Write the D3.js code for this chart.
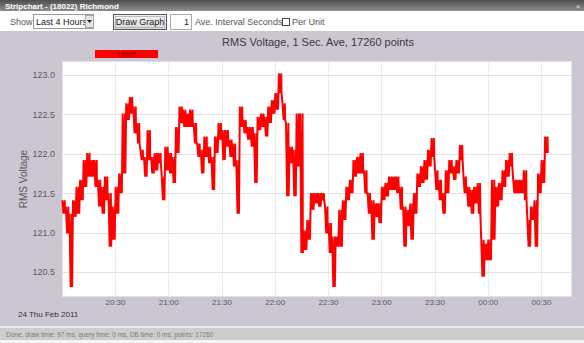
<!DOCTYPE html>
<html>
<head>
<meta charset="utf-8">
<script src="https://cdn.jsdelivr.net/npm/d3@7"></script>
<style>
  html, body { margin: 0; padding: 0; background: #ffffff; }
  svg { display: block; font-family: "Liberation Sans", Arial, sans-serif; }
</style>
</head>
<body>
<svg id="chart" width="584" height="343"></svg>
<script>
// ---- data -------------------------------------------------------------
const windowTitle = "Stripchart - (18022) Richmond";
const chartTitle = "RMS Voltage, 1 Sec. Ave, 17260 points";
const seriesName = "18022";
const dateLabel = "24 Thu Feb 2011";
const statusText = "Done, draw time: 97 ms, query time: 0 ms, DB time: 0 ms, points: 17260";

// visible time window
const timeStart = new Date(2011, 1, 24, 20, 0, 42);
const timeEnd = new Date(2011, 1, 25, 0, 46, 54);
// samples are summarised in 2-minute buckets starting at 20:01
const bucketOrigin = new Date(2011, 1, 24, 20, 1, 0);
const bucketMinutes = 2;

// per-bucket maximum and minimum RMS voltage
const bucketHigh = [
  121.41,121.33,121.24,121.41,121.58,121.67,121.92,122.01,121.92,121.92,
  121.67,121.58,121.71,121.50,121.33,121.58,121.75,122.51,122.64,122.72,
  122.60,122.39,122.05,121.96,122.30,121.96,122.01,122.01,121.71,122.09,
  122.01,121.96,122.34,122.60,122.56,122.51,122.56,122.39,122.13,122.05,
  122.22,122.09,121.96,122.22,122.39,122.30,122.30,122.18,122.13,121.92,
  122.60,122.43,122.34,122.34,122.26,122.47,122.51,122.47,122.60,122.68,
  122.77,123.02,122.64,122.39,122.09,122.05,122.51,122.51,121.03,121.16,
  121.50,121.50,121.50,121.50,121.33,121.12,120.95,120.95,121.29,121.41,
  121.58,121.67,121.92,121.96,122.01,121.79,121.50,121.41,121.37,121.37,
  121.58,121.63,121.71,121.71,121.71,121.58,121.33,121.29,121.37,121.50,
  121.75,121.84,121.92,122.05,122.20,121.79,121.67,121.50,121.79,121.92,
  121.84,121.92,122.11,121.71,121.58,121.54,121.58,121.63,120.91,120.86,
  120.91,121.67,121.58,121.63,121.79,121.92,122.01,121.67,121.67,121.67,
  121.79,121.16,121.33,121.41,121.75,121.92,122.22
];
const bucketLow = [
  121.24,120.99,120.31,121.20,121.24,121.41,121.58,121.71,121.71,121.58,
  121.33,121.24,121.41,120.82,120.91,121.24,121.50,121.75,122.43,122.51,
  122.26,122.13,121.92,121.71,121.92,121.75,121.79,121.88,121.41,121.79,
  121.75,121.63,122.01,122.39,122.34,122.34,122.34,122.13,121.96,121.75,
  121.96,121.88,121.54,122.01,122.18,121.92,122.09,121.96,121.84,121.24,
  122.34,122.26,122.18,122.09,121.63,122.30,122.34,122.22,122.39,122.51,
  122.56,122.77,122.43,121.46,121.88,121.46,121.84,120.74,120.78,120.91,
  121.29,121.37,121.33,121.41,120.99,120.74,120.31,120.82,120.82,121.16,
  121.41,121.50,121.71,121.75,121.75,121.50,121.24,120.91,121.20,121.12,
  121.41,121.46,121.54,121.54,121.50,121.29,120.82,121.08,120.91,121.24,
  121.58,121.63,121.67,121.84,121.96,121.54,121.41,121.24,121.50,121.75,
  121.67,121.75,121.92,121.50,121.33,121.24,121.37,121.24,120.44,120.65,
  120.65,120.91,121.33,121.41,121.58,121.71,121.84,121.50,121.50,121.50,
  121.41,120.82,121.16,120.82,121.50,121.63,122.01
];

const yTicks = [120.5, 121.0, 121.5, 122.0, 122.5, 123.0];
const yDomain = [120.195, 123.165];

// ---- layout -----------------------------------------------------------
const W = 584, H = 343;
const plot = { left: 63, right: 571, top: 62, bottom: 296 };

const svg = d3.select("#chart");
const defs = svg.append("defs");

const tg = defs.append("linearGradient").attr("id", "titleGrad")
  .attr("x1", 0).attr("y1", 0).attr("x2", 0).attr("y2", 1);
tg.append("stop").attr("offset", "0%").attr("stop-color", "#4e4e4e");
tg.append("stop").attr("offset", "100%").attr("stop-color", "#8e8e8e");

const bg = defs.append("linearGradient").attr("id", "btnGrad")
  .attr("x1", 0).attr("y1", 0).attr("x2", 0).attr("y2", 1);
bg.append("stop").attr("offset", "0%").attr("stop-color", "#f6f6f6");
bg.append("stop").attr("offset", "100%").attr("stop-color", "#d6d6d6");

// window background
svg.append("rect").attr("width", W).attr("height", H).attr("fill", "#ccc6d2");

// title bar
svg.append("rect").attr("x", 0).attr("y", 0).attr("width", W).attr("height", 11)
  .attr("fill", "url(#titleGrad)");
svg.append("text").attr("x", 5).attr("y", 8.5).attr("fill", "#ffffff")
  .attr("font-size", 8).attr("font-weight", "bold").text(windowTitle);
svg.append("text").attr("x", 578).attr("y", 8.5).attr("fill", "#e0e0e0")
  .attr("font-size", 8).attr("text-anchor", "middle").text("×");

// toolbar
svg.append("rect").attr("x", 0).attr("y", 11).attr("width", W).attr("height", 20)
  .attr("fill", "#ffffff");
svg.append("text").attr("x", 10).attr("y", 25).attr("font-size", 9).attr("fill", "#555").text("Show");
svg.append("rect").attr("x", 33.5).attr("y", 14.5).attr("width", 60).attr("height", 14)
  .attr("fill", "#fff").attr("stroke", "#9a9a9a");
svg.append("text").attr("x", 36).attr("y", 25).attr("font-size", 9).attr("fill", "#222").text("Last 4 Hours");
svg.append("rect").attr("x", 85.5).attr("y", 15.5).attr("width", 8).attr("height", 12)
  .attr("fill", "#e4e4e4").attr("stroke", "#aaa");
svg.append("path").attr("d", "M87,20 L92,20 L89.5,23 Z").attr("fill", "#222");

svg.append("rect").attr("x", 113.5).attr("y", 14.5).attr("width", 53).attr("height", 15)
  .attr("fill", "url(#btnGrad)").attr("stroke", "#555");
svg.append("rect").attr("x", 115.5).attr("y", 16.5).attr("width", 49).attr("height", 11)
  .attr("fill", "none").attr("stroke", "#9c9c9c").attr("stroke-width", 0.6);
svg.append("text").attr("x", 140).attr("y", 25).attr("font-size", 9).attr("fill", "#222")
  .attr("text-anchor", "middle").text("Draw Graph");

svg.append("rect").attr("x", 170.5).attr("y", 14.5).attr("width", 21).attr("height", 15)
  .attr("fill", "#fff").attr("stroke", "#aaa");
svg.append("text").attr("x", 189).attr("y", 25).attr("font-size", 9).attr("fill", "#222")
  .attr("text-anchor", "end").text("1");
svg.append("text").attr("x", 195).attr("y", 25).attr("font-size", 9).attr("fill", "#555")
  .text("Ave. Interval Seconds");
svg.append("rect").attr("x", 282.5).attr("y", 18.5).attr("width", 7).attr("height", 7)
  .attr("fill", "#fff").attr("stroke", "#444");
svg.append("text").attr("x", 292).attr("y", 25).attr("font-size", 9).attr("fill", "#555").text("Per Unit");

// chart title and legend
svg.append("text").attr("x", 318).attr("y", 46).attr("font-size", 11).attr("fill", "#3a3a3a")
  .attr("text-anchor", "middle").text(chartTitle);
svg.append("rect").attr("x", 95).attr("y", 50).attr("width", 63).attr("height", 8).attr("fill", "#ff0000");
svg.append("text").attr("x", 126.5).attr("y", 57).attr("font-size", 7).attr("fill", "#8a0000")
  .attr("text-anchor", "middle").text(seriesName);

// plot area
svg.append("rect").attr("x", plot.left - 1).attr("y", plot.top - 1)
  .attr("width", plot.right - plot.left + 2).attr("height", plot.bottom - plot.top + 2)
  .attr("fill", "#e4e0e8");
svg.append("rect").attr("x", plot.left).attr("y", plot.top)
  .attr("width", plot.right - plot.left).attr("height", plot.bottom - plot.top)
  .attr("fill", "#ffffff");

const x = d3.scaleTime().domain([timeStart, timeEnd]).range([plot.left, plot.right]);
const y = d3.scaleLinear().domain(yDomain).range([plot.bottom, plot.top]);

// grid
const xTickVals = x.ticks(d3.timeMinute.every(30));
svg.append("g").selectAll("line").data(xTickVals).join("line")
  .attr("x1", d => Math.round(x(d)) + 0.5).attr("x2", d => Math.round(x(d)) + 0.5)
  .attr("y1", plot.top).attr("y2", plot.bottom)
  .attr("stroke", "#ececec").attr("stroke-width", 1);
svg.append("g").selectAll("line").data(yTicks).join("line")
  .attr("x1", plot.left).attr("x2", plot.right)
  .attr("y1", d => Math.round(y(d)) + 0.5).attr("y2", d => Math.round(y(d)) + 0.5)
  .attr("stroke", "#e2e2e2").attr("stroke-width", 1);

// axes (labels only, no domain lines)
const yAxis = d3.axisLeft(y).tickValues(yTicks).tickFormat(d3.format(".1f")).tickSize(0).tickPadding(0);
const gy = svg.append("g").attr("transform", `translate(${plot.left - 8},0)`).call(yAxis);
gy.select(".domain").remove();
gy.selectAll("text").attr("font-size", 9).attr("fill", "#5a5a5a").attr("font-family", "Liberation Sans, Arial, sans-serif");

const xAxis = d3.axisBottom(x).tickValues(xTickVals).tickFormat(d3.timeFormat("%H:%M")).tickSize(0).tickPadding(0);
const gx = svg.append("g").attr("transform", `translate(0,${plot.bottom + 3})`).call(xAxis);
gx.select(".domain").remove();
gx.selectAll("text").attr("font-size", 8).attr("fill", "#5a5a5a").attr("font-family", "Liberation Sans, Arial, sans-serif");

svg.append("text").attr("transform", `translate(27,${(plot.top + plot.bottom) / 2}) rotate(-90)`)
  .attr("text-anchor", "middle").attr("font-size", 10).attr("fill", "#5a5a5a").text("RMS Voltage");

svg.append("text").attr("x", 18).attr("y", 317).attr("font-size", 8).attr("fill", "#333").text(dateLabel);

// voltage trace: each bucket drawn from its high to its low
const pts = [];
bucketHigh.forEach((hi, i) => {
  const t = d3.timeMinute.offset(bucketOrigin, i * bucketMinutes);
  pts.push([d3.timeSecond.offset(t, -40), hi]);
  pts.push([d3.timeSecond.offset(t, 0), bucketLow[i]]);
  pts.push([d3.timeSecond.offset(t, 40), hi]);
  pts.push([d3.timeSecond.offset(t, 50), bucketLow[i]]);
});
const line = d3.line().x(d => x(d[0])).y(d => y(d[1]));
svg.append("path").datum(pts).attr("d", line)
  .attr("fill", "none").attr("stroke", "#ff0000").attr("stroke-width", 2)
  .attr("stroke-linejoin", "miter");

// status bar
svg.append("rect").attr("x", 0).attr("y", 326).attr("width", W).attr("height", 2).attr("fill", "#ece8ef");
svg.append("rect").attr("x", 0).attr("y", 328).attr("width", W).attr("height", 12).attr("fill", "#cdcdcd");
svg.append("text").attr("x", 6).attr("y", 336.5).attr("font-size", 6.5).attr("fill", "#7a7a7a").text(statusText);
svg.append("rect").attr("x", 0).attr("y", 340).attr("width", W).attr("height", 3).attr("fill", "#f4f4f4");
</script>
</body>
</html>
